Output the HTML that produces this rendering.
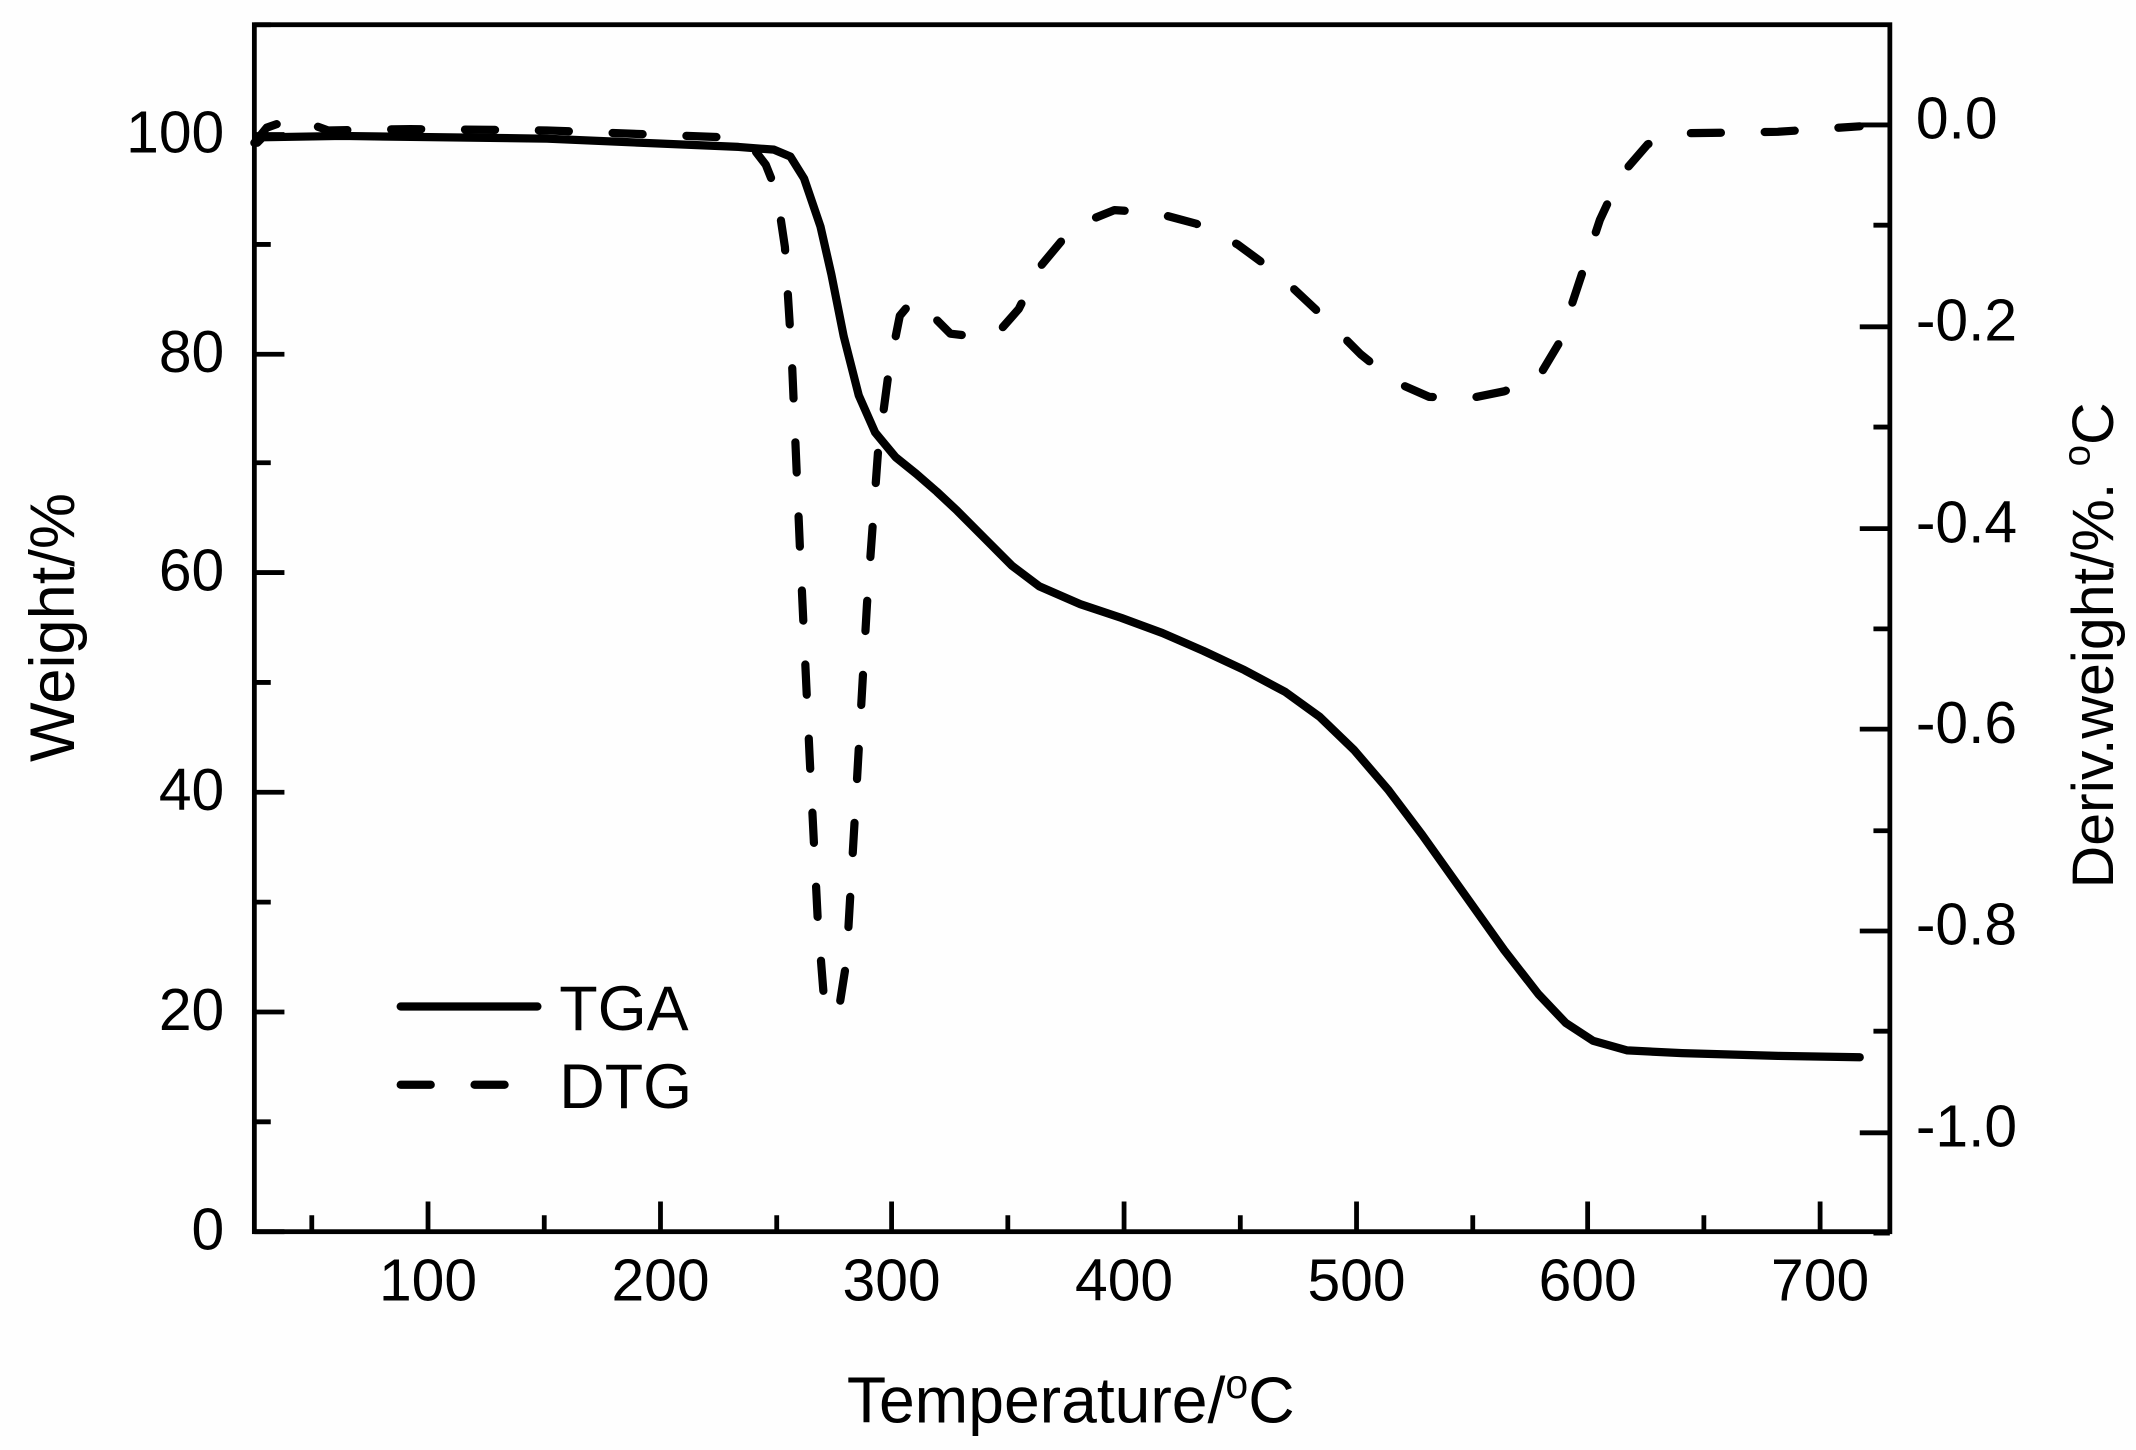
<!DOCTYPE html>
<html><head><meta charset="utf-8"><style>
html,body{margin:0;padding:0;background:#fff;}
svg{display:block;}
text{font-family:"Liberation Sans",Arial,sans-serif;fill:#000;}
</style></head><body>
<svg width="2136" height="1450" viewBox="0 0 1562 1056" preserveAspectRatio="none" xmlns="http://www.w3.org/2000/svg">
<rect x="0" y="0" width="1562" height="1056" fill="#fefefe"/>
<g stroke="#000" stroke-width="3.5" fill="none">
<rect x="186" y="18" width="1196" height="879"/>
<path d="M313 897v-22M483 897v-22M652 897v-22M822 897v-22M992 897v-22M1161 897v-22M1331 897v-22
M228 897v-12M398 897v-12M568 897v-12M737 897v-12M907 897v-12M1077 897v-12M1246 897v-12"/>
<path d="M186 897h22M186 737h22M186 577h22M186 417h22M186 258h22M186 98h22
M186 817h12M186 657h12M186 497h12M186 337h12M186 178h12M186 18h12"/>
<path d="M1382 91h-22M1382 238h-22M1382 385h-22M1382 531h-22M1382 678h-22M1382 825h-22
M1382 164h-12M1382 311h-12M1382 458h-12M1382 605h-12M1382 751h-12M1382 898h-12"/>
</g>
<g font-size="43" text-anchor="end">
<text x="164" y="111">100</text><text x="164" y="271">80</text><text x="164" y="430">60</text>
<text x="164" y="590">40</text><text x="164" y="750">20</text><text x="164" y="910">0</text>
</g>
<g font-size="43" text-anchor="start">
<text x="1401" y="101">0.0</text><text x="1401" y="248">-0.2</text><text x="1401" y="395">-0.4</text>
<text x="1401" y="541">-0.6</text><text x="1401" y="688">-0.8</text><text x="1401" y="835">-1.0</text>
</g>
<g font-size="43" text-anchor="middle">
<text x="313" y="947">100</text><text x="483" y="947">200</text><text x="652" y="947">300</text>
<text x="822" y="947">400</text><text x="992" y="947">500</text><text x="1161" y="947">600</text><text x="1331" y="947">700</text>
</g>
<text x="783" y="1036" font-size="47" text-anchor="middle">Temperature/<tspan font-size="30" dy="-18">o</tspan><tspan dy="18">C</tspan></text>
<text transform="translate(54,457) rotate(-90)" font-size="46" text-anchor="middle">Weight/%</text>
<text transform="translate(1545,470) rotate(-90)" font-size="43" text-anchor="middle">Deriv.weight/%. <tspan font-size="28" dy="-17">o</tspan><tspan dy="17">C</tspan></text>
<g fill="none" stroke="#000" stroke-width="6" stroke-linecap="round" stroke-linejoin="round">
<path d="M188,104 L192,100 L250,99 L400,101 L540,107 L566,109 L578,114 L588,130 L600,165 L608,200 L617,245 L628,288 L640,315 L655,333 L670,345 L685,358 L700,372 L720,392 L740,412 L760,427 L790,440 L820,450 L850,461 L880,474 L910,488 L940,504 L965,522 L990,546 L1015,575 L1040,608 L1070,650 L1100,692 L1125,724 L1145,745 L1165,758 L1190,765 L1230,767 L1300,769 L1360,770"/>
<path stroke-dasharray="22 32" d="M186,104 L195,93 L215,86 L240,95 L300,94 L400,95 L530,100 L550,107 L560,120 L568,140 L574,180 L579,260 L585,400 L592,550 L598,670 L603,733 L613,738 L619,700 L626,580 L634,440 L642,330 L650,270 L658,230 L668,218 L680,228 L695,243 L712,245 L730,242 L745,225 L760,195 L785,165 L815,153 L845,155 L875,163 L905,178 L935,200 L965,228 L995,258 L1020,278 L1045,289 L1075,290 L1100,285 L1125,275 L1140,250 L1155,205 L1170,160 L1185,128 L1205,105 L1235,97 L1300,96 L1360,92"/>
<path d="M293,733 L393,733"/>
<path stroke-dasharray="22 32" d="M293,790 L393,790"/>
</g>
<text x="409" y="750" font-size="46">TGA</text>
<text x="409" y="807" font-size="46">DTG</text>
</svg>
</body></html>
